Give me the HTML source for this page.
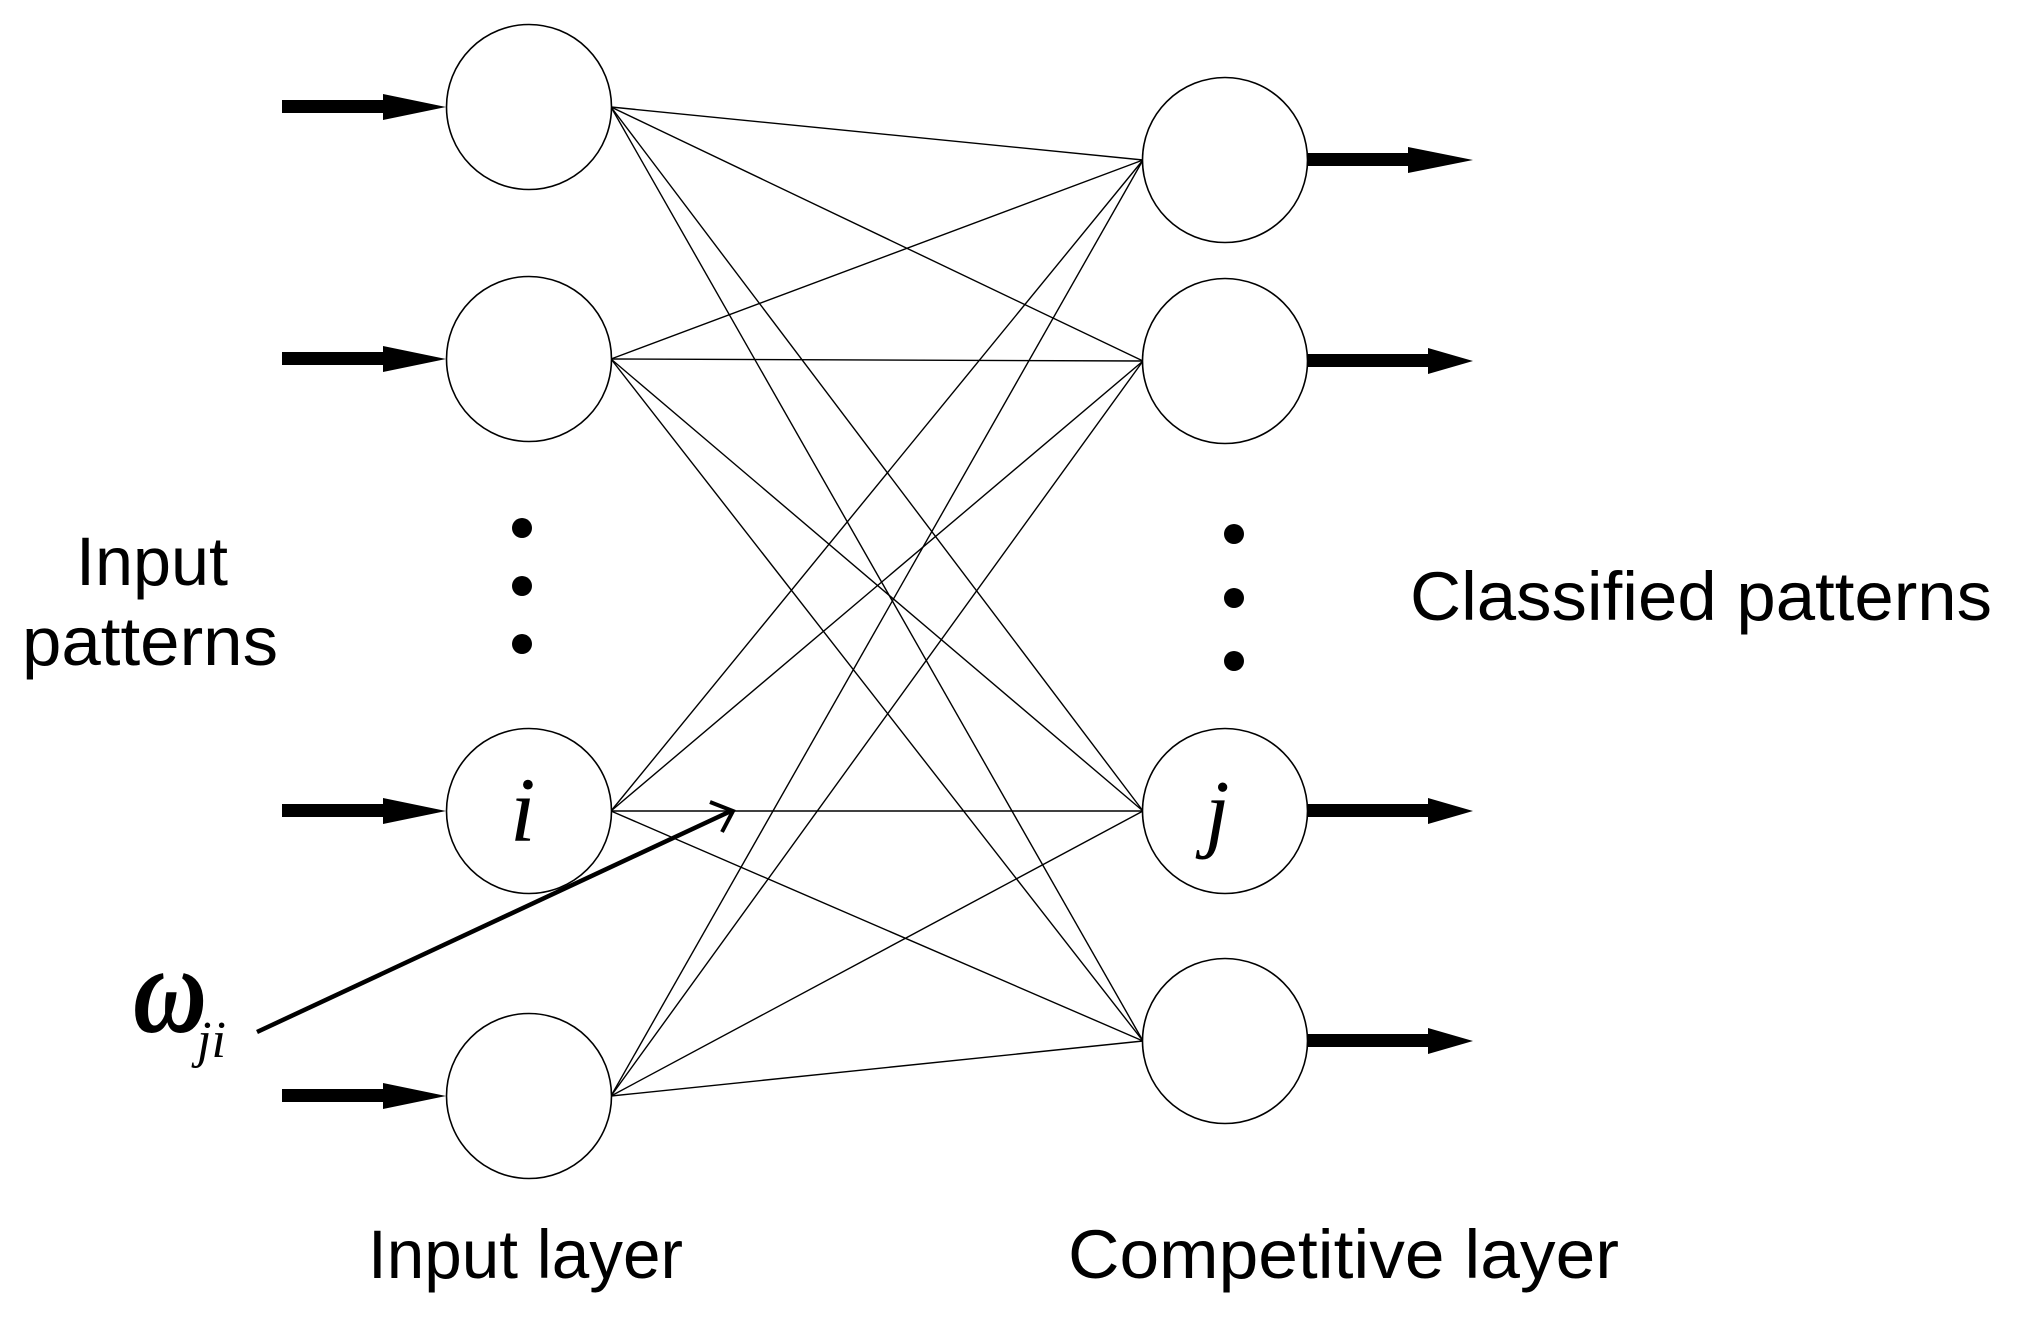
<!DOCTYPE html>
<html><head><meta charset="utf-8"><style>html,body{margin:0;padding:0;background:#fff}svg{display:block}
.s{font-family:"Liberation Sans",Arial,sans-serif}
.m{font-family:"Liberation Serif","Times New Roman",serif;font-style:italic}
</style></head>
<body>
<svg width="2017" height="1320" viewBox="0 0 2017 1320" xmlns="http://www.w3.org/2000/svg">
<g stroke="#000" stroke-width="1.4" fill="none">
<line x1="611" y1="107" x2="1143" y2="160"/><line x1="611" y1="107" x2="1143" y2="361"/><line x1="611" y1="107" x2="1143" y2="811"/><line x1="611" y1="107" x2="1143" y2="1041"/>
<line x1="611" y1="359" x2="1143" y2="160"/><line x1="611" y1="359" x2="1143" y2="361"/><line x1="611" y1="359" x2="1143" y2="811"/><line x1="611" y1="359" x2="1143" y2="1041"/>
<line x1="611" y1="811" x2="1143" y2="160"/><line x1="611" y1="811" x2="1143" y2="361"/><line x1="611" y1="811" x2="1143" y2="811"/><line x1="611" y1="811" x2="1143" y2="1041"/>
<line x1="611" y1="1096" x2="1143" y2="160"/><line x1="611" y1="1096" x2="1143" y2="361"/><line x1="611" y1="1096" x2="1143" y2="811"/><line x1="611" y1="1096" x2="1143" y2="1041"/>
<g fill="#fff" stroke-width="1.6">
<circle cx="529" cy="107" r="82.5"/><circle cx="529" cy="359" r="82.5"/><circle cx="529" cy="811" r="82.5"/><circle cx="529" cy="1096" r="82.5"/>
<circle cx="1225" cy="160" r="82.5"/><circle cx="1225" cy="361" r="82.5"/><circle cx="1225" cy="811" r="82.5"/><circle cx="1225" cy="1041" r="82.5"/>
</g>
<line x1="257" y1="1032" x2="731" y2="811" stroke-width="4.5"/>
<polyline points="710,802 733,811 722,832" stroke-width="4"/>
</g>
<g fill="#000">
<rect x="282" y="100" width="103" height="13"/><polygon points="383,94 446,107 383,120"/>
<rect x="282" y="352" width="103" height="13"/><polygon points="383,346 446,359 383,372"/>
<rect x="282" y="804" width="103" height="13"/><polygon points="383,798 446,811 383,824"/>
<rect x="282" y="1089" width="103" height="13"/><polygon points="383,1083 446,1096 383,1109"/>
<rect x="1307" y="153" width="103" height="13"/><polygon points="1408,147 1473,160 1408,173"/>
<rect x="1307" y="354" width="123" height="13"/><polygon points="1428,348 1473,361 1428,374"/>
<rect x="1307" y="804" width="123" height="13"/><polygon points="1428,798 1473,811 1428,824"/>
<rect x="1307" y="1034" width="123" height="13"/><polygon points="1428,1028 1473,1041 1428,1054"/>
<circle cx="522" cy="528" r="10"/><circle cx="522" cy="586" r="10"/><circle cx="522" cy="644" r="10"/>
<circle cx="1234" cy="534" r="10"/><circle cx="1234" cy="598" r="10"/><circle cx="1234" cy="661" r="10"/>
</g>
<g class="s" font-size="69" fill="#000">
<text x="76" y="585" textLength="152" lengthAdjust="spacingAndGlyphs">Input</text>
<text x="22" y="665" textLength="256" lengthAdjust="spacingAndGlyphs">patterns</text>
<text x="1410" y="620" textLength="582" lengthAdjust="spacingAndGlyphs">Classified patterns</text>
<text x="368" y="1278" textLength="315" lengthAdjust="spacingAndGlyphs">Input layer</text>
<text x="1068" y="1278" textLength="551" lengthAdjust="spacingAndGlyphs">Competitive layer</text>
</g>
<g class="m" fill="#000">
<text x="510" y="841" font-size="92">i</text>
<text x="1205" y="841" font-size="88">j</text>
<text x="133" y="1032" font-size="125" font-weight="bold" textLength="74" lengthAdjust="spacingAndGlyphs">ω</text>
<text x="197" y="1057" font-size="52">ji</text>
</g>
</svg>
</body></html>
